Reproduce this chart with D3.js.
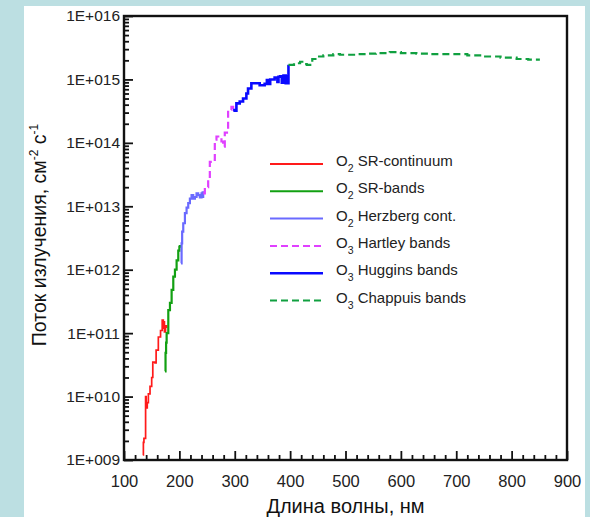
<!DOCTYPE html>
<html>
<head>
<meta charset="utf-8">
<script src="https://cdn.jsdelivr.net/npm/d3@7"></script>
<style>
  html, body { margin: 0; padding: 0; background: #bcdfe2; }
  svg { display: block; font-family: "Liberation Sans", Arial, sans-serif; }
</style>
</head>
<body>
<div id="wrapper"></div>
<script>
// O2 Schumann-Runge continuum
const srContWl   = [134, 135, 136, 139, 140, 142, 144, 147, 150, 152, 156, 158, 162, 166, 169, 171, 172, 173, 175, 177]
const srContFlux = [1.2e9, 1.9e9, 2.2e9, 1.0e10, 6.6e9, 8.0e9, 1.1e10, 1.45e10, 2.0e10, 3.5e10, 3.4e10, 5.4e10, 8.7e10, 1.1e11, 1.6e11, 1.2e11, 1.5e11, 1.05e11, 1.3e11, 1.2e11]

// O2 Schumann-Runge bands
const srBandsWl   = [174, 175, 176, 177, 180, 183, 186, 189, 192, 195, 198, 200, 201]
const srBandsFlux = [2.5e10, 4.9e10, 7.1e10, 1.0e11, 2.3e11, 3.0e11, 4.8e11, 7.8e11, 1.0e12, 1.4e12, 2.0e12, 2.3e12, 2.45e12]

// O2 Herzberg continuum
const herzWl   = [203, 204, 205, 207, 210, 213, 216, 219, 222, 225, 228, 231, 234, 237, 240, 242, 243]
const herzFlux = [1.26e12, 2.6e12, 4.0e12, 5.4e12, 7.8e12, 9.5e12, 1.12e13, 1.32e13, 1.5e13, 1.32e13, 1.4e13, 1.6e13, 1.5e13, 1.38e13, 1.6e13, 1.66e13, 1.35e13]

// O3 Hartley bands
const hartleyWl   = [243, 246, 252, 255, 261, 264, 267, 276, 279, 282, 288, 294, 297]
const hartleyFlux = [1.6e13, 2.0e13, 2.6e13, 5.0e13, 5.4e13, 1.12e14, 1.26e14, 1.05e14, 8.7e13, 1.45e14, 3.3e14, 3.7e14, 3.3e14]

// O3 Huggins bands
const hugginsWl   = [297, 300, 303, 309, 315, 321, 324, 330, 342, 345, 354, 358, 361, 364, 372, 377, 379, 382, 385, 388, 392, 394, 396, 397]
const hugginsFlux = [3.3e14, 3.2e14, 4.2e14, 4.5e14, 5.0e14, 6.0e14, 7.2e14, 8.7e14, 8.7e14, 8.1e14, 8.5e14, 9.8e14, 8.5e14, 1.0e15, 1.07e15, 9.1e14, 1.1e15, 1.12e15, 8.9e14, 1.15e15, 8.7e14, 1.12e15, 8.7e14, 1.7e15]

// O3 Chappuis bands
const chappuisWl   = [397, 407, 418, 425, 430, 440, 448, 460, 478, 490, 508, 520, 538, 555, 580, 600, 628, 650, 689, 720, 748, 780, 809, 830, 851]
const chappuisFlux = [1.7e15, 1.8e15, 1.9e15, 1.75e15, 1.7e15, 2.1e15, 2.3e15, 2.4e15, 2.5e15, 2.45e15, 2.45e15, 2.5e15, 2.55e15, 2.6e15, 2.7e15, 2.6e15, 2.55e15, 2.5e15, 2.5e15, 2.4e15, 2.3e15, 2.2e15, 2.1e15, 2.05e15, 2.05e15]

const xTicks = [100, 200, 300, 400, 500, 600, 700, 800, 900]
const yTicks = [1e9, 1e10, 1e11, 1e12, 1e13, 1e14, 1e15, 1e16]

const series = [
  {mol: "2", name: "SR-continuum",   wl: srContWl,   flux: srContFlux,   color: "#ff1a1a", width: 1.7, dash: null},
  {mol: "2", name: "SR-bands",       wl: srBandsWl,  flux: srBandsFlux,  color: "#12a012", width: 2.2, dash: null},
  {mol: "2", name: "Herzberg cont.", wl: herzWl,     flux: herzFlux,     color: "#6a6aff", width: 2.2, dash: null},
  {mol: "3", name: "Hartley bands",  wl: hartleyWl,  flux: hartleyFlux,  color: "#e040ff", width: 2.2, dash: "7,4"},
  {mol: "3", name: "Huggins bands",  wl: hugginsWl,  flux: hugginsFlux,  color: "#0a0aff", width: 2.6, dash: null},
  {mol: "3", name: "Chappuis bands", wl: chappuisWl, flux: chappuisFlux, color: "#10a040", width: 2.2, dash: "7,4"},
]

const width = 590
const height = 517
const margin = {top: 16, right: 23, bottom: 57, left: 124}
const boundedWidth = width - margin.left - margin.right
const boundedHeight = height - margin.top - margin.bottom

const svg = d3.select("#wrapper").append("svg")
  .attr("width", width)
  .attr("height", height)

svg.append("rect")
  .attr("x", 24).attr("y", 6)
  .attr("width", 561).attr("height", height - 6)
  .attr("fill", "white")

const bounds = svg.append("g")
  .attr("transform", `translate(${margin.left},${margin.top})`)

const xScale = d3.scaleLinear().domain([100, 900]).range([0, boundedWidth])
const yScale = d3.scaleLog().domain([1e9, 1e16]).range([boundedHeight, 0])

// minor ticks
const xMinor = d3.range(100, 901, 20).filter(v => v % 100 !== 0)
const yMinor = []
yTicks.slice(0, -1).forEach(p => d3.range(2, 10).forEach(k => yMinor.push(p * k)))

const xMinorAxis = bounds.append("g")
  .attr("transform", `translate(0,${boundedHeight})`)
  .call(d3.axisBottom(xScale).tickValues(xMinor).tickSize(-5).tickFormat(""))
const yMinorAxis = bounds.append("g")
  .call(d3.axisLeft(yScale).tickValues(yMinor).tickSize(-5).tickFormat(""))

const xAxis = bounds.append("g")
  .attr("transform", `translate(0,${boundedHeight})`)
  .call(d3.axisBottom(xScale).tickValues(xTicks).tickSize(-9).tickPadding(15).tickFormat(d3.format("d")))
const yAxis = bounds.append("g")
  .call(d3.axisLeft(yScale).tickValues(yTicks).tickSize(-9).tickPadding(4)
    .tickFormat(d => "1E+" + String(Math.round(Math.log10(d))).padStart(3, "0")))

bounds.selectAll(".domain").remove()
bounds.selectAll(".tick line").attr("stroke", "#111").attr("stroke-width", 1.8)
xAxis.selectAll("text").attr("fill", "#222").style("font-size", "16.5px")
yAxis.selectAll("text").attr("fill", "#222").style("font-size", "15.5px")

bounds.append("rect")
  .attr("width", boundedWidth).attr("height", boundedHeight)
  .attr("fill", "none").attr("stroke", "#111").attr("stroke-width", 2.4)

const lineGenerator = d3.line()
  .x(d => xScale(d[0]))
  .y(d => yScale(d[1]))
  .curve(d3.curveStepAfter)

series.forEach(s => {
  bounds.append("path")
    .attr("d", lineGenerator(d3.zip(s.wl, s.flux)))
    .attr("fill", "none")
    .attr("stroke", s.color)
    .attr("stroke-width", s.width)
    .attr("stroke-dasharray", s.dash)
})

// legend
const legend = svg.append("g").attr("transform", "translate(270,164)")
series.forEach((s, i) => {
  const row = legend.append("g").attr("transform", `translate(0,${i * 27.3})`)
  row.append("line")
    .attr("x1", 0).attr("x2", 53)
    .attr("stroke", s.color)
    .attr("stroke-width", s.width > 2.4 ? 2.4 : 2)
    .attr("stroke-dasharray", s.dash)
  const t = row.append("text")
    .attr("x", 66).attr("y", 2)
    .attr("fill", "#222")
    .style("font-size", "15px")
  t.append("tspan").text("O")
  t.append("tspan").attr("dy", 6).style("font-size", "10.5px").text(s.mol)
  t.append("tspan").attr("dy", -6).text(" " + s.name)
})

// axis titles
svg.append("text")
  .attr("x", margin.left + boundedWidth / 2)
  .attr("y", 513)
  .attr("text-anchor", "middle")
  .attr("fill", "#111")
  .style("font-size", "20px")
  .text("Длина волны, нм")

const yTitle = svg.append("text")
  .attr("transform", `translate(46,${margin.top + boundedHeight / 2 - 3}) rotate(-90)`)
  .attr("text-anchor", "middle")
  .attr("fill", "#111")
  .style("font-size", "19.5px")
yTitle.append("tspan").text("Поток излучения, см")
yTitle.append("tspan").attr("dy", -8).style("font-size", "12px").text("-2")
yTitle.append("tspan").attr("dy", 8).text(" с")
yTitle.append("tspan").attr("dy", -8).style("font-size", "12px").text("-1")
</script>
</body>
</html>
